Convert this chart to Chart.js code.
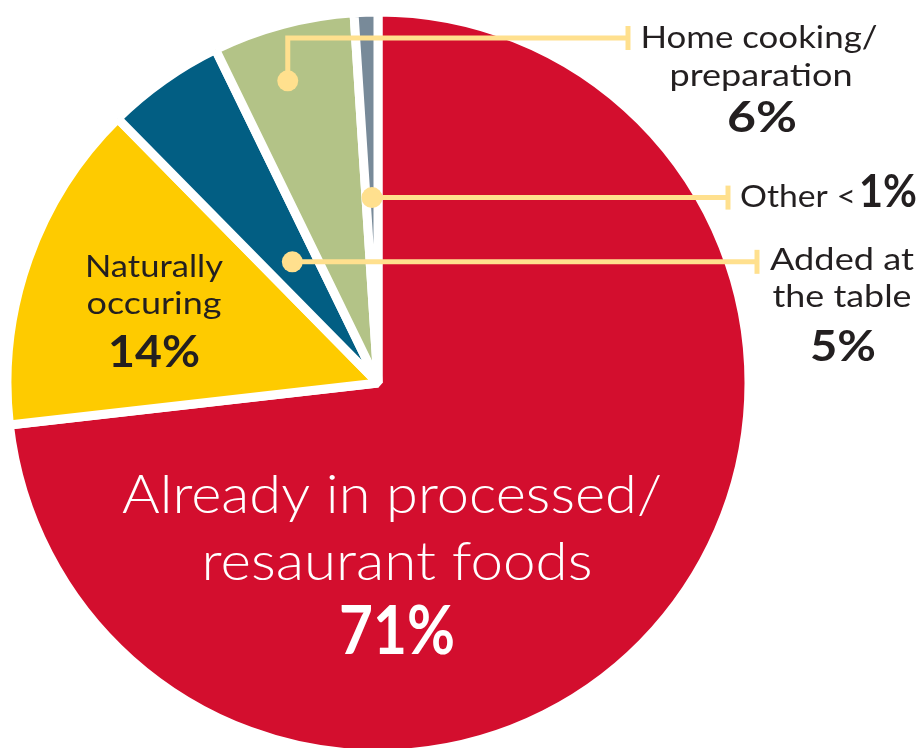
<!DOCTYPE html>
<html><head><meta charset="utf-8">
<script src="https://cdn.jsdelivr.net/npm/chart.js@4.4.1/dist/chart.umd.min.js"></script>
<style>html,body{margin:0;padding:0;background:#fff;overflow:hidden}#wrap{width:922px;height:748px;position:relative}canvas{display:block}</style>
</head><body><div id="wrap"><canvas id="c" width="922" height="748"></canvas></div>
<script>
const categories = ["Already in processed/ resaurant foods", "Naturally occuring", "Added at the table", "Home cooking/ preparation", "Other"];
const shareValues = [71, 14, 5, 6, 1];
const shareLabels = ["71%", "14%", "5%", "6%", "<1%"];
const sliceColors = ["#D30E2E", "#FECB00", "#025E83", "#B3C387", "#788A99"];

const FONT = "Lato, 'Open Sans', sans-serif";
const TEXT = "#231F20";
const LEADER = "#FFE08E";

const labelPlugin = {
  id: 'labels',
  afterDatasetsDraw(chart) {
    const ctx = chart.ctx;
    const arcs = chart.getDatasetMeta(0).data;
    function pt(i, along, frac) {
      const a = arcs[i];
      const ang = a.startAngle + (a.endAngle - a.startAngle) * along;
      const r = a.outerRadius * frac;
      return { x: a.x + Math.cos(ang) * r, y: a.y + Math.sin(ang) * r };
    }
    ctx.save();
    ctx.strokeStyle = LEADER; ctx.fillStyle = LEADER; ctx.lineWidth = 5; ctx.lineCap = 'butt'; ctx.lineJoin = 'miter';
    const leaders = [
      { i: 3, along: 0.42, frac: 0.85, elbowY: 38, endX: 628 },
      { i: 4, along: 0.5, frac: 0.5, endX: 728 },
      { i: 2, along: 0.5, frac: 0.4, endX: 757 }
    ];
    leaders.forEach(L => {
      const p = pt(L.i, L.along, L.frac);
      const y = L.elbowY !== undefined ? L.elbowY : p.y;
      ctx.beginPath(); ctx.moveTo(p.x, p.y); ctx.lineTo(p.x, y); ctx.lineTo(L.endX, y); ctx.stroke();
      ctx.beginPath(); ctx.moveTo(L.endX, y - 12); ctx.lineTo(L.endX, y + 12); ctx.stroke();
      ctx.beginPath(); ctx.arc(p.x, p.y, 10.5, 0, Math.PI * 2); ctx.fill();
    });

    // draws text stretched horizontally to a target width
    function txt(s, x, y, size, weight, color, width, align) {
      ctx.font = `${weight} ${size}px ${FONT}`;
      ctx.fillStyle = color; ctx.textAlign = 'left'; ctx.textBaseline = 'alphabetic';
      const m = ctx.measureText(s).width;
      const sx = width ? width / m : 1;
      const w = m * sx;
      const left = align === 'left' ? x : x - w / 2;
      ctx.save(); ctx.translate(left, y); ctx.scale(sx, 1); ctx.fillText(s, 0, 0); ctx.restore();
      return w;
    }
    // Home cooking
    txt("Home cooking/", 759, 48, 30, 400, TEXT, 237);
    txt("preparation", 761, 86, 30, 400, TEXT, 183);
    txt(shareLabels[3], 762, 132, 42, 700, TEXT, 70);
    // Other
    const w = txt("Other <", 740, 207, 31, 400, TEXT, 116, 'left');
    txt(shareLabels[4].replace('<', ''), 740 + w + 3, 207, 45, 700, TEXT, 58, 'left');
    // Added at the table
    txt("Added at", 842, 270, 30, 400, TEXT, 144);
    txt("the table", 842, 307, 30, 400, TEXT, 139);
    txt(shareLabels[2], 843, 361, 42, 700, TEXT, 66);
    // Naturally occuring
    txt("Naturally", 154, 277, 30, 400, TEXT, 138);
    txt("occuring", 154, 314, 30, 400, TEXT, 135);
    txt(shareLabels[1], 154, 367, 44, 700, TEXT, 92);
    // Red
    txt("Already in processed/", 392, 513, 54, 300, "#FFFFFF", 540);
    txt("resaurant foods", 397, 580, 54, 300, "#FFFFFF", 391);
    txt(shareLabels[0], 397, 654, 66, 700, "#FFFFFF", 116);
    ctx.restore();
  }
};

new Chart(document.getElementById('c'), {
  type: 'pie',
  data: {
    labels: categories,
    datasets: [{
      data: shareValues,
      backgroundColor: sliceColors,
      borderColor: '#FFFFFF',
      borderWidth: 9,
      clip: false
    }]
  },
  options: {
    responsive: false,
    animation: false,
    devicePixelRatio: 1,
    radius: 371,
    layout: { padding: { left: 0, right: 166, top: 18, bottom: 0 } },
    plugins: { legend: { display: false }, tooltip: { enabled: false } }
  },
  plugins: [labelPlugin]
});
</script>
</body></html>
